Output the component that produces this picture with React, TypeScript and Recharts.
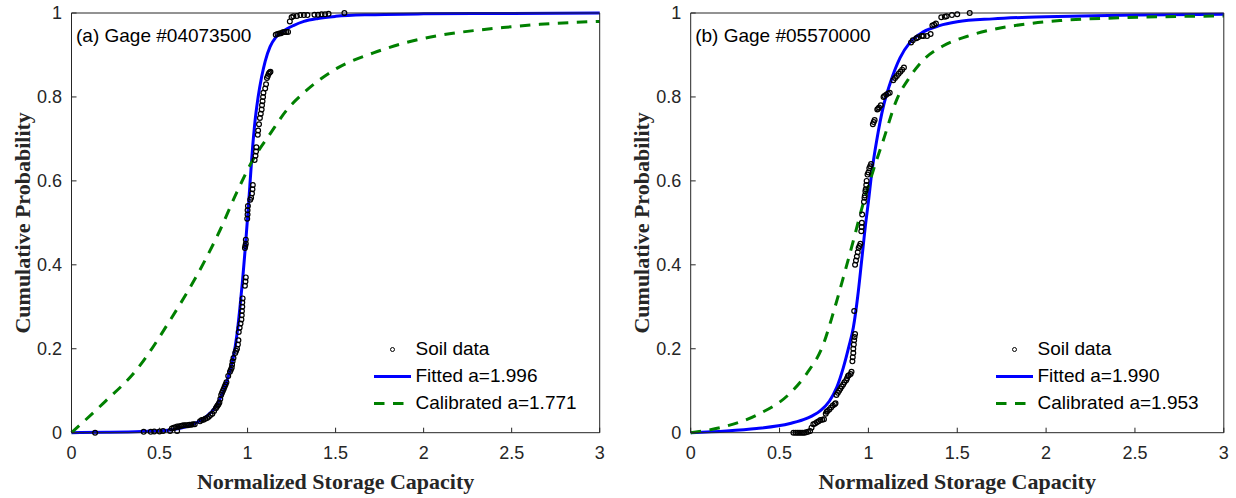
import { ComposedChart, Line, Scatter, XAxis, YAxis, Legend } from "recharts";

type Pt = [number, number];

const xTicks = [0, 0.5, 1, 1.5, 2, 2.5, 3];
const yTicks = [0, 0.2, 0.4, 0.6, 0.8, 1];

const xTitle = "Normalized Storage Capacity";
const yTitle = "Cumulative Probability";

const titleA = "(a) Gage #04073500";
const titleB = "(b) Gage #05570000";
const legendA = ["Soil data", "Fitted a=1.996", "Calibrated a=1.771"];
const legendB = ["Soil data", "Fitted a=1.990", "Calibrated a=1.953"];

// panel (a)
const soilA: Pt[] = [
  [0.134, 0], [0.41, 0.002], [0.45, 0.002], [0.47, 0.003], [0.5, 0.003], [0.52, 0.004], [0.56, 0.004], [0.6, 0.004],
  [0.57, 0.01], [0.58, 0.012], [0.59, 0.013], [0.6, 0.015], [0.61, 0.015], [0.62, 0.016], [0.63, 0.017],
  [0.64, 0.018], [0.65, 0.018], [0.66, 0.018], [0.67, 0.019], [0.68, 0.019], [0.69, 0.02], [0.7, 0.02],
  [0.73, 0.027], [0.74, 0.03], [0.75, 0.031], [0.76, 0.033], [0.77, 0.035], [0.78, 0.038], [0.79, 0.042], [0.8, 0.045],
  [0.81, 0.052], [0.82, 0.058], [0.825, 0.062], [0.83, 0.065], [0.835, 0.068], [0.84, 0.072], [0.845, 0.08],
  [0.85, 0.09], [0.855, 0.095], [0.86, 0.1], [0.865, 0.105], [0.87, 0.11], [0.875, 0.115], [0.88, 0.12],
  [0.89, 0.135], [0.9, 0.145], [0.905, 0.15], [0.91, 0.155], [0.912, 0.162], [0.915, 0.17], [0.92, 0.178],
  [0.93, 0.19], [0.935, 0.195], [0.94, 0.2], [0.945, 0.21], [0.948, 0.22], [0.95, 0.24], [0.955, 0.25],
  [0.96, 0.26], [0.965, 0.27], [0.967, 0.28], [0.968, 0.29], [0.97, 0.3], [0.97, 0.31], [0.972, 0.32],
  [0.985, 0.35], [0.988, 0.36], [0.99, 0.37], [0.985, 0.44], [0.987, 0.445], [0.99, 0.45], [0.99, 0.46],
  [0.998, 0.51], [1.0, 0.52], [1.0, 0.53], [1.002, 0.54], [1.015, 0.555], [1.02, 0.56], [1.025, 0.57],
  [1.028, 0.58], [1.03, 0.59], [1.04, 0.65], [1.045, 0.66], [1.048, 0.67], [1.05, 0.68],
  [1.058, 0.71], [1.06, 0.72], [1.065, 0.735], [1.07, 0.75], [1.075, 0.76], [1.08, 0.77], [1.082, 0.78],
  [1.085, 0.79], [1.088, 0.8], [1.09, 0.81], [1.1, 0.82], [1.105, 0.83], [1.11, 0.845], [1.115, 0.85],
  [1.12, 0.855], [1.125, 0.858], [1.13, 0.86],
  [1.16, 0.948], [1.17, 0.95], [1.18, 0.951], [1.19, 0.952], [1.2, 0.954], [1.21, 0.955], [1.22, 0.955],
  [1.23, 0.955], [1.24, 0.98], [1.25, 0.99], [1.26, 0.992], [1.28, 0.993], [1.3, 0.995], [1.32, 0.995],
  [1.34, 0.995], [1.38, 0.996], [1.4, 0.996], [1.42, 0.997], [1.44, 0.997], [1.46, 0.998], [1.55, 1],
];
const fittedA: Pt[] = [
  [0, 0], [0.2, 0.001], [0.4, 0.003], [0.55, 0.006], [0.65, 0.014], [0.72, 0.026], [0.77, 0.04],
  [0.82, 0.063], [0.863, 0.1], [0.895, 0.14], [0.919, 0.18], [0.94, 0.235], [0.957, 0.3], [0.972, 0.365],
  [0.986, 0.435], [1.005, 0.54], [1.024, 0.655], [1.043, 0.745], [1.06, 0.8], [1.08, 0.848], [1.1, 0.885],
  [1.128, 0.92], [1.16, 0.942], [1.2, 0.956], [1.26, 0.97], [1.32, 0.98], [1.4, 0.987], [1.5, 0.992],
  [1.7, 0.996], [2, 0.998], [2.5, 0.999], [3, 1],
];
const calibratedA: Pt[] = [
  [0, 0], [0.18, 0.07], [0.37, 0.15], [0.56, 0.268], [0.75, 0.404], [0.844, 0.483], [0.94, 0.574],
  [1.033, 0.652], [1.128, 0.712], [1.223, 0.769], [1.317, 0.809], [1.507, 0.868], [1.715, 0.905],
  [1.904, 0.93], [2.094, 0.947], [2.283, 0.958], [2.47, 0.966], [2.66, 0.973], [3, 0.98],
];

// panel (b)
const soilB: Pt[] = [
  [0.578, 0], [0.59, 0], [0.6, 0], [0.61, 0], [0.62, 0], [0.63, 0], [0.64, 0], [0.65, 0.001], [0.66, 0.002], [0.672, 0.004],
  [0.68, 0.012], [0.69, 0.02], [0.7, 0.022], [0.71, 0.025], [0.72, 0.027], [0.73, 0.03], [0.74, 0.031], [0.75, 0.032],
  [0.76, 0.045], [0.765, 0.05], [0.77, 0.052], [0.78, 0.055], [0.79, 0.06], [0.8, 0.065], [0.81, 0.068], [0.815, 0.07],
  [0.82, 0.09], [0.828, 0.095], [0.835, 0.1], [0.842, 0.105], [0.85, 0.11], [0.858, 0.115], [0.865, 0.12],
  [0.875, 0.125], [0.88, 0.13], [0.885, 0.135], [0.89, 0.137], [0.9, 0.14], [0.905, 0.145],
  [0.91, 0.17], [0.912, 0.18], [0.915, 0.19], [0.915, 0.2], [0.918, 0.21], [0.92, 0.22], [0.922, 0.228], [0.925, 0.235], [0.92, 0.29],
  [0.925, 0.4], [0.93, 0.41], [0.935, 0.42], [0.94, 0.43], [0.945, 0.44], [0.95, 0.445], [0.955, 0.45],
  [0.96, 0.48], [0.962, 0.49], [0.963, 0.5], [0.965, 0.52],
  [0.975, 0.55], [0.978, 0.56], [0.98, 0.565], [0.983, 0.575], [0.985, 0.58], [0.988, 0.59], [0.99, 0.6],
  [0.995, 0.615], [1.0, 0.62], [1.005, 0.63], [1.01, 0.635], [1.015, 0.64],
  [1.025, 0.735], [1.03, 0.74], [1.035, 0.745], [1.05, 0.77], [1.055, 0.772], [1.06, 0.775], [1.07, 0.78],
  [1.085, 0.8], [1.09, 0.802], [1.1, 0.805], [1.11, 0.808], [1.12, 0.81],
  [1.14, 0.84], [1.15, 0.845], [1.16, 0.85], [1.17, 0.855], [1.18, 0.86], [1.19, 0.865], [1.2, 0.87],
  [1.24, 0.93], [1.25, 0.935], [1.27, 0.94], [1.28, 0.942], [1.3, 0.945], [1.31, 0.945], [1.33, 0.945], [1.35, 0.95],
  [1.36, 0.97], [1.37, 0.972], [1.38, 0.975], [1.41, 0.99], [1.43, 0.991], [1.44, 0.992], [1.47, 0.995],
  [1.5, 0.997], [1.57, 1],
];
const fittedB: Pt[] = [
  [0, 0], [0.2, 0.004], [0.371, 0.01], [0.559, 0.022], [0.653, 0.034], [0.728, 0.052], [0.78, 0.075],
  [0.822, 0.108], [0.859, 0.155], [0.89, 0.205], [0.915, 0.25], [0.94, 0.325], [0.962, 0.41], [0.985, 0.5],
  [1.0, 0.55], [1.019, 0.62], [1.047, 0.697], [1.084, 0.777], [1.122, 0.832], [1.178, 0.893], [1.234, 0.93],
  [1.309, 0.955], [1.4, 0.97], [1.5, 0.979], [1.7, 0.986], [1.9, 0.99], [2.2, 0.993], [2.5, 0.995], [3, 0.997],
];
const calibratedB: Pt[] = [
  [0, 0], [0.184, 0.014], [0.371, 0.042], [0.559, 0.094], [0.653, 0.141], [0.746, 0.21], [0.802, 0.285],
  [0.859, 0.37], [0.915, 0.457], [0.971, 0.547], [1.028, 0.626], [1.084, 0.697], [1.159, 0.793],
  [1.234, 0.848], [1.309, 0.888], [1.422, 0.922], [1.553, 0.944], [1.703, 0.961], [1.89, 0.974],
  [2.078, 0.982], [2.453, 0.989], [3, 0.993],
];

const BLUE = "#0000ff";
const GREEN = "#008000";
const AXIS = "#262626";
const SANS = "Arial, 'Liberation Sans', sans-serif";
const SERIF = "'Times New Roman', 'Liberation Serif', serif";
const DASH = "10.5 8.5";

const rows = (pts: Pt[]) => pts.map(([x, y]) => ({ x, y }));

// ticks point inward, like MATLAB
const BottomTick = (p: any) => (
  <g>
    <line x1={p.x} x2={p.x} y1={p.y} y2={p.y - 5} stroke={AXIS} />
    <text x={p.x} y={p.y + 20} textAnchor="middle" dominantBaseline="central" fontSize={18} fontFamily={SANS} fill={AXIS}>
      {p.payload.value}
    </text>
  </g>
);
const TopTick = (p: any) => <line x1={p.x} x2={p.x} y1={p.y} y2={p.y + 5} stroke={AXIS} />;
const LeftTick = (p: any) => (
  <g>
    <line x1={p.x} x2={p.x + 5} y1={p.y} y2={p.y} stroke={AXIS} />
    <text x={p.x - 9.5} y={p.y} textAnchor="end" dominantBaseline="central" fontSize={18} fontFamily={SANS} fill={AXIS}>
      {p.payload.value}
    </text>
  </g>
);
const RightTick = (p: any) => <line x1={p.x} x2={p.x - 5} y1={p.y} y2={p.y} stroke={AXIS} />;

const titleStyle = { fontSize: 22, fontWeight: 700, fontFamily: SERIF, fill: AXIS };

function legendContent(labels: string[]) {
  return () => (
    <div style={{ fontFamily: SANS, fontSize: 19, color: "#000" }}>
      {labels.map((lab, i) => (
        <div key={lab} style={{ display: "flex", alignItems: "center", height: 27, whiteSpace: "nowrap" }}>
          <svg width={37} height={27} style={{ marginRight: 4.5 }}>
            {i === 0 ? (
              <circle cx={18.5} cy={13.5} r={2} fill="none" stroke="#000" />
            ) : (
              <line x1={0} x2={37} y1={13.5} y2={13.5} stroke={i === 1 ? BLUE : GREEN} strokeWidth={3}
                strokeDasharray={i === 2 ? DASH : undefined} />
            )}
          </svg>
          <span>{lab}</span>
        </div>
      ))}
    </div>
  );
}

interface PanelProps {
  title: string;
  labels: string[];
  soil: Pt[];
  fitted: Pt[];
  calibrated: Pt[];
  left: number;
  marginLeft: number;
  marginRight: number;
  legendLeft: number;
}

const Y_W = 40;
const R_W = 8;
const TOP_H = 8;
const X_H = 30;

function Panel(props: PanelProps) {
  const { title, labels, soil, fitted, calibrated, left, marginLeft, marginRight, legendLeft } = props;
  return (
    <div style={{ position: "absolute", left, top: 0 }}>
      <ComposedChart width={618} height={498}
        margin={{ top: 13 - TOP_H, left: marginLeft - Y_W, right: marginRight - R_W, bottom: 65.3 - X_H }}>
        <XAxis type="number" dataKey="x" domain={[0, 3]} ticks={xTicks} interval={0} height={X_H}
          tickSize={0} tickMargin={0} tickLine={false} tick={BottomTick} axisLine={{ stroke: AXIS }}
          label={{
            content: (p: any) => (
              <text x={p.viewBox.x + p.viewBox.width / 2} y={p.viewBox.y + 49} textAnchor="middle"
                dominantBaseline="central" {...titleStyle}>{xTitle}</text>
            ),
          }} />
        <XAxis xAxisId="top" orientation="top" type="number" dataKey="x" domain={[0, 3]} ticks={xTicks} interval={0}
          height={TOP_H} tickSize={0} tickMargin={0} tickLine={false} tick={TopTick} axisLine={{ stroke: AXIS }}
          label={{
            content: (p: any) => (
              <text x={p.viewBox.x + 4.5} y={p.viewBox.y + p.viewBox.height + 22.5} dominantBaseline="central"
                fontSize={19} fontFamily={SANS} fill="#000">{title}</text>
            ),
          }} />
        <YAxis type="number" dataKey="y" domain={[0, 1]} ticks={yTicks} interval={0} width={Y_W}
          tickSize={0} tickMargin={0} tickLine={false} tick={LeftTick} axisLine={{ stroke: AXIS }}
          label={{
            content: (p: any) => {
              const cx = p.viewBox.x + p.viewBox.width - 49;
              const cy = p.viewBox.y + p.viewBox.height / 2;
              return (
                <text x={cx} y={cy} transform={`rotate(-90, ${cx}, ${cy})`} textAnchor="middle"
                  dominantBaseline="central" {...titleStyle}>{yTitle}</text>
              );
            },
          }} />
        <YAxis yAxisId="right" orientation="right" type="number" dataKey="y" domain={[0, 1]} ticks={yTicks}
          interval={0} width={R_W} tickSize={0} tickMargin={0} tickLine={false} tick={RightTick}
          axisLine={{ stroke: AXIS }} />
        <Legend layout="vertical" align="center" verticalAlign="middle" content={legendContent(labels)}
          wrapperStyle={{ left: legendLeft, top: 335.5, width: "auto" }} />
        <Scatter data={rows(soil)} dataKey="y" name={labels[0]} isAnimationActive={false}
          shape={(p: any) => <circle cx={p.cx} cy={p.cy} r={2.4} fill="none" stroke="#000" strokeWidth={1.2} />} />
        <Line data={rows(fitted)} dataKey="y" name={labels[1]} type="monotone" stroke={BLUE} strokeWidth={3}
          dot={false} activeDot={false} isAnimationActive={false} />
        <Line data={rows(calibrated)} dataKey="y" name={labels[2]} type="monotone" stroke={GREEN} strokeWidth={3}
          strokeDasharray={DASH} dot={false} activeDot={false} isAnimationActive={false} />
      </ComposedChart>
    </div>
  );
}

export default function App() {
  return (
    <div style={{ position: "absolute", left: 0, top: 0, width: 1236, height: 498, background: "#fff" }}>
      <Panel title={titleA} labels={legendA} soil={soilA} fitted={fittedA} calibrated={calibratedA}
        left={0} marginLeft={71.5} marginRight={18.3} legendLeft={374} />
      <Panel title={titleB} labels={legendB} soil={soilB} fitted={fittedB} calibrated={calibratedB}
        left={618} marginLeft={72.7} marginRight={12.2} legendLeft={378} />
    </div>
  );
}
